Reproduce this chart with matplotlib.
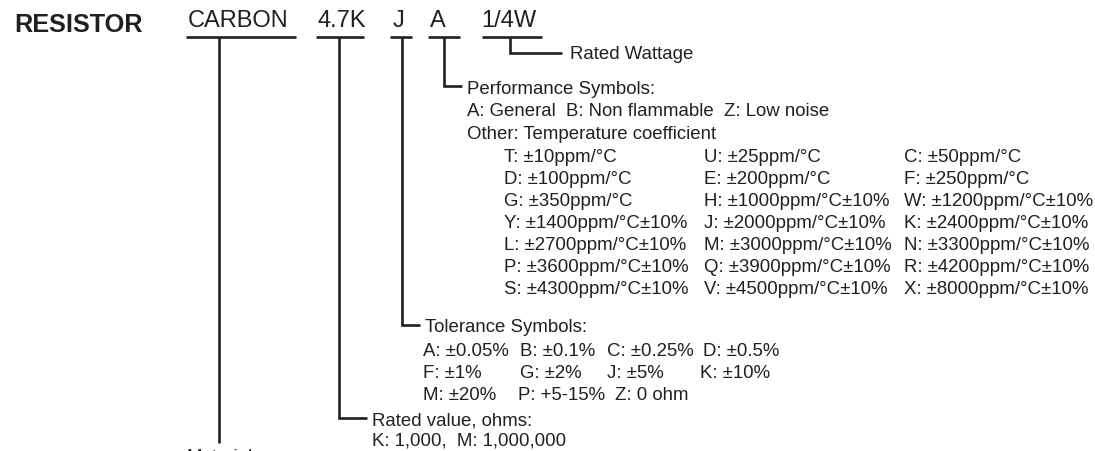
import matplotlib
matplotlib.use("Agg")
import matplotlib.pyplot as plt

plt.rcParams['font.family'] = ['Liberation Sans', 'DejaVu Sans']

INK = '#231f20'

# Code parts of the part number and what they mean
title = "RESISTOR"
code_parts = ["CARBON", "4.7K", "J", "A", "1/4W"]
part_names = ["Material", "Rated value, ohms:", "Tolerance Symbols:",
              "Performance Symbols:", "Rated Wattage"]

rated_value_notes = ["K: 1,000,  M: 1,000,000"]

tolerance_rows = [
    ["A: \u00b10.05%", "B: \u00b10.1%", "C: \u00b10.25%", "D: \u00b10.5%"],
    ["F: \u00b11%", "G: \u00b12%", "J: \u00b15%", "K: \u00b110%"],
    ["M: \u00b120%", "P: +5-15%", "Z: 0 ohm"],
]

performance_notes = ["A: General  B: Non flammable  Z: Low noise",
                     "Other: Temperature coefficient"]

tempco_rows = [
    ["T: \u00b110ppm/\u00b0C", "U: \u00b125ppm/\u00b0C", "C: \u00b150ppm/\u00b0C"],
    ["D: \u00b1100ppm/\u00b0C", "E: \u00b1200ppm/\u00b0C", "F: \u00b1250ppm/\u00b0C"],
    ["G: \u00b1350ppm/\u00b0C", "H: \u00b11000ppm/\u00b0C\u00b110%", "W: \u00b11200ppm/\u00b0C\u00b110%"],
    ["Y: \u00b11400ppm/\u00b0C\u00b110%", "J: \u00b12000ppm/\u00b0C\u00b110%", "K: \u00b12400ppm/\u00b0C\u00b110%"],
    ["L: \u00b12700ppm/\u00b0C\u00b110%", "M: \u00b13000ppm/\u00b0C\u00b110%", "N: \u00b13300ppm/\u00b0C\u00b110%"],
    ["P: \u00b13600ppm/\u00b0C\u00b110%", "Q: \u00b13900ppm/\u00b0C\u00b110%", "R: \u00b14200ppm/\u00b0C\u00b110%"],
    ["S: \u00b14300ppm/\u00b0C\u00b110%", "V: \u00b14500ppm/\u00b0C\u00b110%", "X: \u00b18000ppm/\u00b0C\u00b110%"],
]

# Figure in pixel coordinates (y downwards)
fig = plt.figure(figsize=(10.95, 4.51), dpi=100)
ax = fig.add_axes([0, 0, 1, 1])
ax.set_xlim(0, 1095)
ax.set_ylim(451, 0)
ax.axis('off')

big = 17
small = 13.4
lw = 1.9

ax.text(14, 32, title, fontsize=18.2, fontweight='bold', color=INK, va='baseline')

# code parts, underlines and leader lines
code_x = [188, 317, 393, 430, 481]
under = [(186, 296), (316, 364), (390, 412), (428, 460), (482, 542)]
stem_x = [219, 339, 402, 444, 510]
elbow_y = [443, 418, 325, 86, 53]
elbow_end = [219, 367, 420, 462, 562]
label_x = [187, 372, 425, 467, 570]
label_base = [462, 425, 332, 94, 59]

for i, part in enumerate(code_parts):
    ax.text(code_x[i], 27, part, fontsize=big, color=INK, va='baseline')
    ax.plot(under[i], [37, 37], color=INK, lw=lw, solid_capstyle='butt')
    ax.plot([stem_x[i], stem_x[i], elbow_end[i]], [37, elbow_y[i], elbow_y[i]],
            color=INK, lw=lw, solid_joinstyle='miter', solid_capstyle='butt')
    ax.text(label_x[i], label_base[i], part_names[i], fontsize=small, color=INK,
            va='baseline')

# performance block
for k, line in enumerate(performance_notes):
    ax.text(467, 116 + 23 * k, line, fontsize=small, color=INK, va='baseline')
tc_cols = [504, 704, 904]
for r, row in enumerate(tempco_rows):
    for c, item in enumerate(row):
        ax.text(tc_cols[c], 162 + 22 * r, item, fontsize=small, color=INK, va='baseline')

# tolerance block (last row is not on the column grid)
tol_cols = [[423, 520, 607, 703], [423, 520, 607, 700], [423, 518, 615]]
for r, row in enumerate(tolerance_rows):
    for c, item in enumerate(row):
        ax.text(tol_cols[r][c], 356 + 22 * r, item, fontsize=small, color=INK, va='baseline')

# rated value block
for k, line in enumerate(rated_value_notes):
    ax.text(372, 445 + 22 * k, line, fontsize=small, color=INK, va='baseline')

fig.savefig('out.png', dpi=100)
